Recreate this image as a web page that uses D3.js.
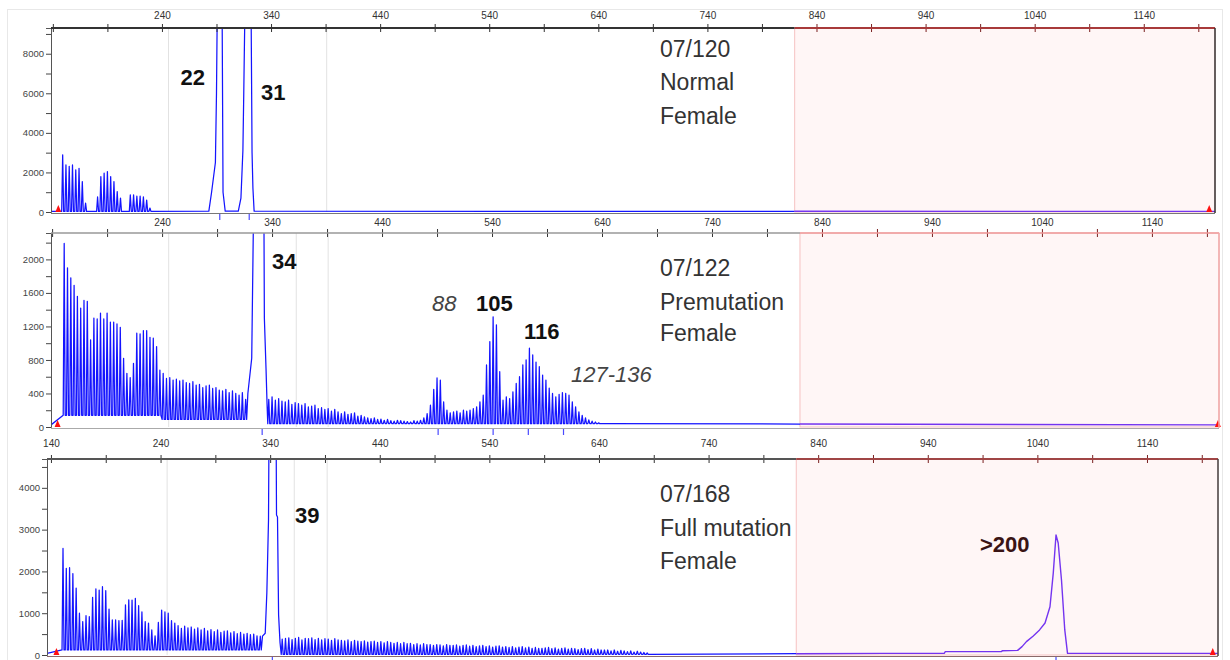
<!DOCTYPE html>
<html>
<head>
<meta charset="utf-8">
<title>FMR1 CGG repeat sizing</title>
<script src="https://cdn.jsdelivr.net/npm/d3@7/dist/d3.min.js"></script>
<style>
  body { margin: 0; background: #fff; }
  svg { display: block; font-family: "Liberation Sans", Arial, sans-serif; }
</style>
</head>
<body>
<svg width="1230" height="660"></svg>
<script>
// size axis (bp) shared by the three runs
var sizeLabels = [140, 240, 340, 440, 540, 640, 740, 840, 940, 1040, 1140];
var sizeMinor = [190, 290, 390, 490, 590, 690, 790, 890, 990, 1090, 1190];
var windowFrom = 820;          // start of the shaded (pink) size window
var runMarkers = [145, 1200];  // red triangles at both ends of the run

// --- run 1 : 07/120 normal female ---
var p1Info = ["07/120", "Normal", "Female"];
var p1Ticks = [0, 1000, 2000, 3000, 4000, 5000, 6000, 7000, 8000, 9000];
var p1TickLabels = [0, 2000, 4000, 6000, 8000];
var p1SizeLabels = [240, 340, 440, 540, 640, 740, 840, 940, 1040, 1140];
var p1Base = 30;
var p1Stutter = [
  {start: 149, floor: 30, heights: [2890, 2380, 2310, 2380, 2130, 2210, 1540, 450]},
  {start: 181, floor: 30, heights: [760, 1790, 1960, 2040, 1790, 1540, 1030, 700]},
  {start: 211, floor: 30, heights: [860, 860, 800, 800, 760, 600, 200]}
];
var p1Peaks = [
  [[283, 40], [285.5, 1000], [289, 2500], [290, 6000], [291, 12000], [295, 12000], [296, 1000], [298, 40]],
  [[310, 40], [312.4, 700], [314.2, 3100], [315, 6000], [316.5, 12000], [321.5, 12000], [322.6, 3000], [323.4, 1200], [324.5, 40]]
];
var p1Calls = [293, 320];
var p1Grid = [246, 391];
var p1Labels = [
  {text: "22", bp: 257, rfu: 6430, style: "bold"},
  {text: "31", bp: 330.7, rfu: 5670, style: "bold"}
];

// --- run 2 : 07/122 premutation female ---
var p2Info = ["07/122", "Premutation", "Female"];
var p2Ticks = [0, 200, 400, 600, 800, 1000, 1200, 1400, 1600, 1800, 2000, 2200];
var p2TickLabels = [0, 400, 800, 1200, 1600, 2000];
var p2SizeLabels = [240, 340, 440, 540, 640, 740, 840, 940, 1040, 1140];
var p2Base = 25;
var p2Stutter = [
  {start: 151, floor: 140, heights: [
    2190, 1900, 1780, 1690, 1560, 1420, 1510, 1500, 1040, 1300,
    1290, 1360, 1290, 1360, 1250, 1250, 1230, 1190, 820, 640,
    590, 760, 1120, 1110, 1150, 1150, 1070, 1060, 960, 680]},
  {start: 241, floor: 90, heights: [
    640, 580, 590, 560, 570, 550, 560, 530, 520, 540,
    500, 510, 470, 490, 500, 460, 470, 440, 430, 450,
    410, 430, 400, 380, 410, 330]},
  {start: 337, floor: 40, heights: [
    330, 360, 320, 340, 310, 300, 320, 270, 290, 280,
    260, 280, 240, 250, 260, 220, 230, 210, 220, 190,
    210, 180, 160, 180, 150, 160, 170, 130, 140, 120,
    110, 100, 110, 90, 95, 80, 90, 75, 70, 80,
    75, 70, 65, 60, 75, 70, 80, 110, 160, 260,
    450, 585, 560, 300, 200, 170, 180, 190, 170, 200,
    190, 200, 220, 240, 300, 380, 740, 1020, 1315, 1220,
    660, 320, 360, 340, 420, 520, 600, 740, 800, 940,
    860, 775, 720, 620, 560, 465, 400, 360, 390, 410,
    400, 380, 300, 240, 180, 140, 110, 85, 70, 60,
    50, 40]}
];
var p2Peaks = [
  [[318, 400], [321.5, 820], [323, 2400], [324, 6000], [331.5, 6000], [333, 1300], [334.5, 700], [335.5, 250]]
];
var p2Calls = [331, 491, 541, 573, 605];
var p2Grid = [246, 362, 391];
var p2Labels = [
  {text: "34", bp: 340, rfu: 1890, style: "bold"},
  {text: "88", bp: 485.5, rfu: 1384, style: "italic"},
  {text: "105", bp: 525.5, rfu: 1384, style: "bold"},
  {text: "116", bp: 569, rfu: 1050, style: "bold"},
  {text: "127-136", bp: 611.8, rfu: 537, style: "italic"}
];

// --- run 3 : 07/168 full mutation female ---
var p3Info = ["07/168", "Full mutation", "Female"];
var p3Ticks = [0, 500, 1000, 1500, 2000, 2500, 3000, 3500, 4000, 4500];
var p3TickLabels = [0, 1000, 2000, 3000, 4000];
var p3SizeLabels = [140, 240, 340, 440, 540, 640, 740, 840, 940, 1040, 1140];
var p3Base = 40;
var p3Stutter = [
  {start: 151, floor: 120, heights: [
    2550, 2075, 2090, 1950, 1600, 1000, 800, 940, 920, 1380,
    1580, 1555, 1635, 1540, 1100, 840, 840, 820, 830, 1200,
    1320, 1315, 1355, 1180, 1030, 800, 765, 600, 460, 780,
    1075, 1030, 1000, 820, 765, 700, 640, 690, 650, 670,
    620, 650, 600, 640, 580, 610, 560, 600, 540, 570,
    580, 530, 560, 510, 540, 500, 520, 490, 500, 460,
    450]},
  {start: 351, floor: 15, heights: [
    380, 400, 410, 370, 400, 420, 360, 400, 390, 410,
    370, 400, 360, 390, 380, 350, 390, 360, 350,
    340, 360, 320, 350, 330, 320, 340, 310,
    320, 330, 300, 320, 290, 320, 300, 280, 300, 270, 300,
    270, 280, 250, 270, 240, 270, 250, 250, 230,
    250, 240, 220, 250, 230, 230, 240, 210, 230, 240,
    210, 230, 200, 220, 230, 200, 220, 190, 210, 220, 190,
    200, 180, 200, 170, 190, 200, 170, 190, 160,
    180, 160, 160, 170, 180, 150, 170, 140, 160, 170,
    140, 160, 150, 130, 150, 160, 130, 150, 120, 140, 120, 120,
    120, 100, 120, 90, 110, 100, 80, 100, 70, 90, 70, 60, 50]}
];
var p3Peaks = [
  [[333, 450], [335.5, 520], [337, 1500], [338.5, 3230], [339.5, 8000], [345, 8000], [345.8, 3350], [346.7, 3300], [347.7, 960], [349, 300]],
  [[900, 40], [955, 40], [956, 80], [1007, 80], [1008, 100], [1022, 110], [1026, 200], [1030, 320], [1036, 450],
   [1042, 600], [1047, 765], [1051.5, 1155], [1054.5, 1960], [1057, 2870], [1059, 2680], [1062, 1795], [1065, 600], [1067.5, 40]]
];
var p3Calls = [342, 1057];
var p3Grid = [246, 362, 392];
var p3Labels = [
  {text: "39", bp: 362.6, rfu: 3158, style: "bold"},
  {text: ">200", bp: 987.6, rfu: 2460, style: "dark"}
];

var runs = [
  {info: p1Info, ticks: p1Ticks, tickLabels: p1TickLabels, sizeLabels: p1SizeLabels, base: p1Base, stutter: p1Stutter, peaks: p1Peaks, calls: p1Calls, grid: p1Grid, labels: p1Labels},
  {info: p2Info, ticks: p2Ticks, tickLabels: p2TickLabels, sizeLabels: p2SizeLabels, base: p2Base, stutter: p2Stutter, peaks: p2Peaks, calls: p2Calls, grid: p2Grid, labels: p2Labels},
  {info: p3Info, ticks: p3Ticks, tickLabels: p3TickLabels, sizeLabels: p3SizeLabels, base: p3Base, stutter: p3Stutter, peaks: p3Peaks, calls: p3Calls, grid: p3Grid, labels: p3Labels}
];

// pixel layout of each panel
var layout = [
  {top: 28, bottom: 212, left: 51, right: 1215, size: [138.3, 1205.3], rfuMax: 9300, labelGap: 5.5,
   axis: "#333", axisW: 2, winAxis: "#a83a3a", rightLine: "#333", bottomLine: "#777", info: [57, 90, 124]},
  {top: 233, bottom: 427, left: 51, right: 1219, size: [139, 1201], rfuMax: 2315, labelGap: 3.5,
   axis: "#999", axisW: 1.5, winAxis: "#ee9a9a", rightLine: "#f0aaaa", bottomLine: "#aaa", info: [276, 310, 341]},
  {top: 459, bottom: 655, left: 47, right: 1218, size: [136.4, 1204.8], rfuMax: 4690, labelGap: 8.5,
   axis: "#555", axisW: 2, winAxis: "#a04545", rightLine: "#444", bottomLine: "#8a6a6a", info: [502, 536, 569]}
];
var infoX = 660;
var spikeHalf = 0.9;  // half width of one stutter spike, in bp

var svg = d3.select("svg");
var defs = svg.append("defs");

svg.append("rect")
  .attr("x", 7.5).attr("y", 9.5).attr("width", 1215).attr("height", 652)
  .attr("fill", "none").attr("stroke", "#e8e8e8");

function tracePoints(run, dom) {
  var pts = [[dom[0], run.base]];
  run.stutter.forEach(function(s){
    s.heights.forEach(function(h, k){
      var bp = s.start + k * 3;
      pts.push([bp - spikeHalf, s.floor], [bp, h], [bp + spikeHalf, s.floor]);
    });
  });
  run.peaks.forEach(function(pk){ pts = pts.concat(pk); });
  pts.push([dom[1], run.base]);
  return pts.sort(function(a, b){ return a[0] - b[0]; });
}

runs.forEach(function(run, i){
  var L = layout[i];
  var x = d3.scaleLinear().domain(L.size).range([L.left, L.right]);
  var y = d3.scaleLinear().domain([0, L.rfuMax]).range([L.bottom, L.top]);
  var g = svg.append("g");
  var xw = x(windowFrom);

  // shaded size window
  g.append("rect")
    .attr("x", xw).attr("y", L.top)
    .attr("width", L.right - xw).attr("height", L.bottom - L.top)
    .attr("fill", "#fff6f6").attr("stroke", "#f6c2c2").attr("stroke-width", 1);

  // faint grid lines
  g.selectAll("line.grid").data(run.grid).enter().append("line")
    .attr("class", "grid")
    .attr("x1", function(d){ return x(d); }).attr("x2", function(d){ return x(d); })
    .attr("y1", L.top).attr("y2", L.bottom)
    .attr("stroke", "#e2e2e2").attr("stroke-width", 1);

  // bottom line
  g.append("line")
    .attr("x1", L.left).attr("x2", L.right)
    .attr("y1", L.bottom + 1.5).attr("y2", L.bottom + 1.5)
    .attr("stroke", L.bottomLine).attr("stroke-width", 1);

  // clip areas: normal part (blue) and window part (purple)
  defs.append("clipPath").attr("id", "clipA" + i).append("rect")
    .attr("x", L.left).attr("y", L.top)
    .attr("width", xw - L.left).attr("height", L.bottom - L.top + 3);
  defs.append("clipPath").attr("id", "clipB" + i).append("rect")
    .attr("x", xw).attr("y", L.top)
    .attr("width", L.right - xw).attr("height", L.bottom - L.top + 3);

  var pts = tracePoints(run, L.size);
  var line = d3.line()
    .x(function(d){ return x(d[0]); })
    .y(function(d){ return y(d[1]); });

  g.append("path").datum(pts)
    .attr("clip-path", "url(#clipA" + i + ")")
    .attr("d", line)
    .attr("fill", "none").attr("stroke", "#1414ff").attr("stroke-width", 1.25)
    .attr("stroke-linejoin", "round");
  g.append("path").datum(pts)
    .attr("clip-path", "url(#clipB" + i + ")")
    .attr("d", line)
    .attr("fill", "none").attr("stroke", "#7434f0").attr("stroke-width", 1.4)
    .attr("stroke-linejoin", "round");

  // allele call marks below baseline
  g.selectAll("line.call").data(run.calls).enter().append("line")
    .attr("class", "call")
    .attr("x1", function(d){ return x(d); }).attr("x2", function(d){ return x(d); })
    .attr("y1", L.bottom + 2).attr("y2", L.bottom + 8)
    .attr("stroke", "#4a4aff").attr("stroke-width", 1.2);

  // red run markers
  g.selectAll("path.marker").data(runMarkers).enter().append("path")
    .attr("class", "marker")
    .attr("transform", function(d){ return "translate(" + x(d) + "," + L.bottom + ")"; })
    .attr("d", "M-3,0L0,-7L3,0Z")
    .attr("fill", "#ff1010");

  // y axis
  var yAxis = d3.axisLeft(y)
    .tickValues(run.ticks)
    .tickSize(5).tickPadding(2)
    .tickFormat(function(d){ return run.tickLabels.indexOf(d) >= 0 ? d : ""; });
  var ga = g.append("g").attr("transform", "translate(" + L.left + ",0)").call(yAxis);
  ga.select(".domain").attr("stroke", "#555");
  ga.selectAll(".tick line").attr("stroke", "#444");
  ga.selectAll("text").attr("fill", "#444").style("font-size", "9.5px")
    .style("font-family", "'Liberation Sans', Arial, sans-serif");

  // size axis on top
  var xAxis = d3.axisTop(x)
    .tickValues(sizeLabels.concat(sizeMinor))
    .tickSize(4).tickPadding(L.labelGap)
    .tickFormat(function(d){ return run.sizeLabels.indexOf(d) >= 0 ? d : ""; });
  var gx = g.append("g").attr("transform", "translate(0," + L.top + ")").call(xAxis);
  gx.select(".domain").remove();
  gx.selectAll(".tick line").attr("y1", 4)
    .attr("stroke", function(d){ return d >= windowFrom ? "#7a2020" : "#333"; });
  gx.selectAll("text").attr("fill", "#333").style("font-size", "10px")
    .style("font-family", "'Liberation Sans', Arial, sans-serif");
  g.append("line")
    .attr("x1", L.left).attr("x2", xw).attr("y1", L.top).attr("y2", L.top)
    .attr("stroke", L.axis).attr("stroke-width", L.axisW);
  g.append("line")
    .attr("x1", xw).attr("x2", L.right).attr("y1", L.top).attr("y2", L.top)
    .attr("stroke", L.winAxis).attr("stroke-width", L.axisW);

  // right border
  g.append("line")
    .attr("x1", L.right).attr("x2", L.right).attr("y1", L.top).attr("y2", L.bottom + 1)
    .attr("stroke", L.rightLine).attr("stroke-width", 1.5);

  // peak labels
  g.selectAll("text.peak").data(run.labels).enter().append("text")
    .attr("class", "peak")
    .attr("x", function(d){ return x(d.bp); })
    .attr("y", function(d){ return y(d.rfu); })
    .attr("font-size", 22)
    .attr("font-weight", function(d){ return d.style === "italic" ? "normal" : "bold"; })
    .attr("font-style", function(d){ return d.style === "italic" ? "italic" : "normal"; })
    .attr("fill", function(d){ return d.style === "italic" ? "#444" : (d.style === "dark" ? "#3a1414" : "#111"); })
    .text(function(d){ return d.text; });

  // sample info
  g.selectAll("text.info").data(run.info).enter().append("text")
    .attr("class", "info")
    .attr("x", infoX)
    .attr("y", function(d, k){ return L.info[k]; })
    .attr("font-size", 23)
    .attr("fill", "#333")
    .text(function(d){ return d; });
});
</script>
</body>
</html>
